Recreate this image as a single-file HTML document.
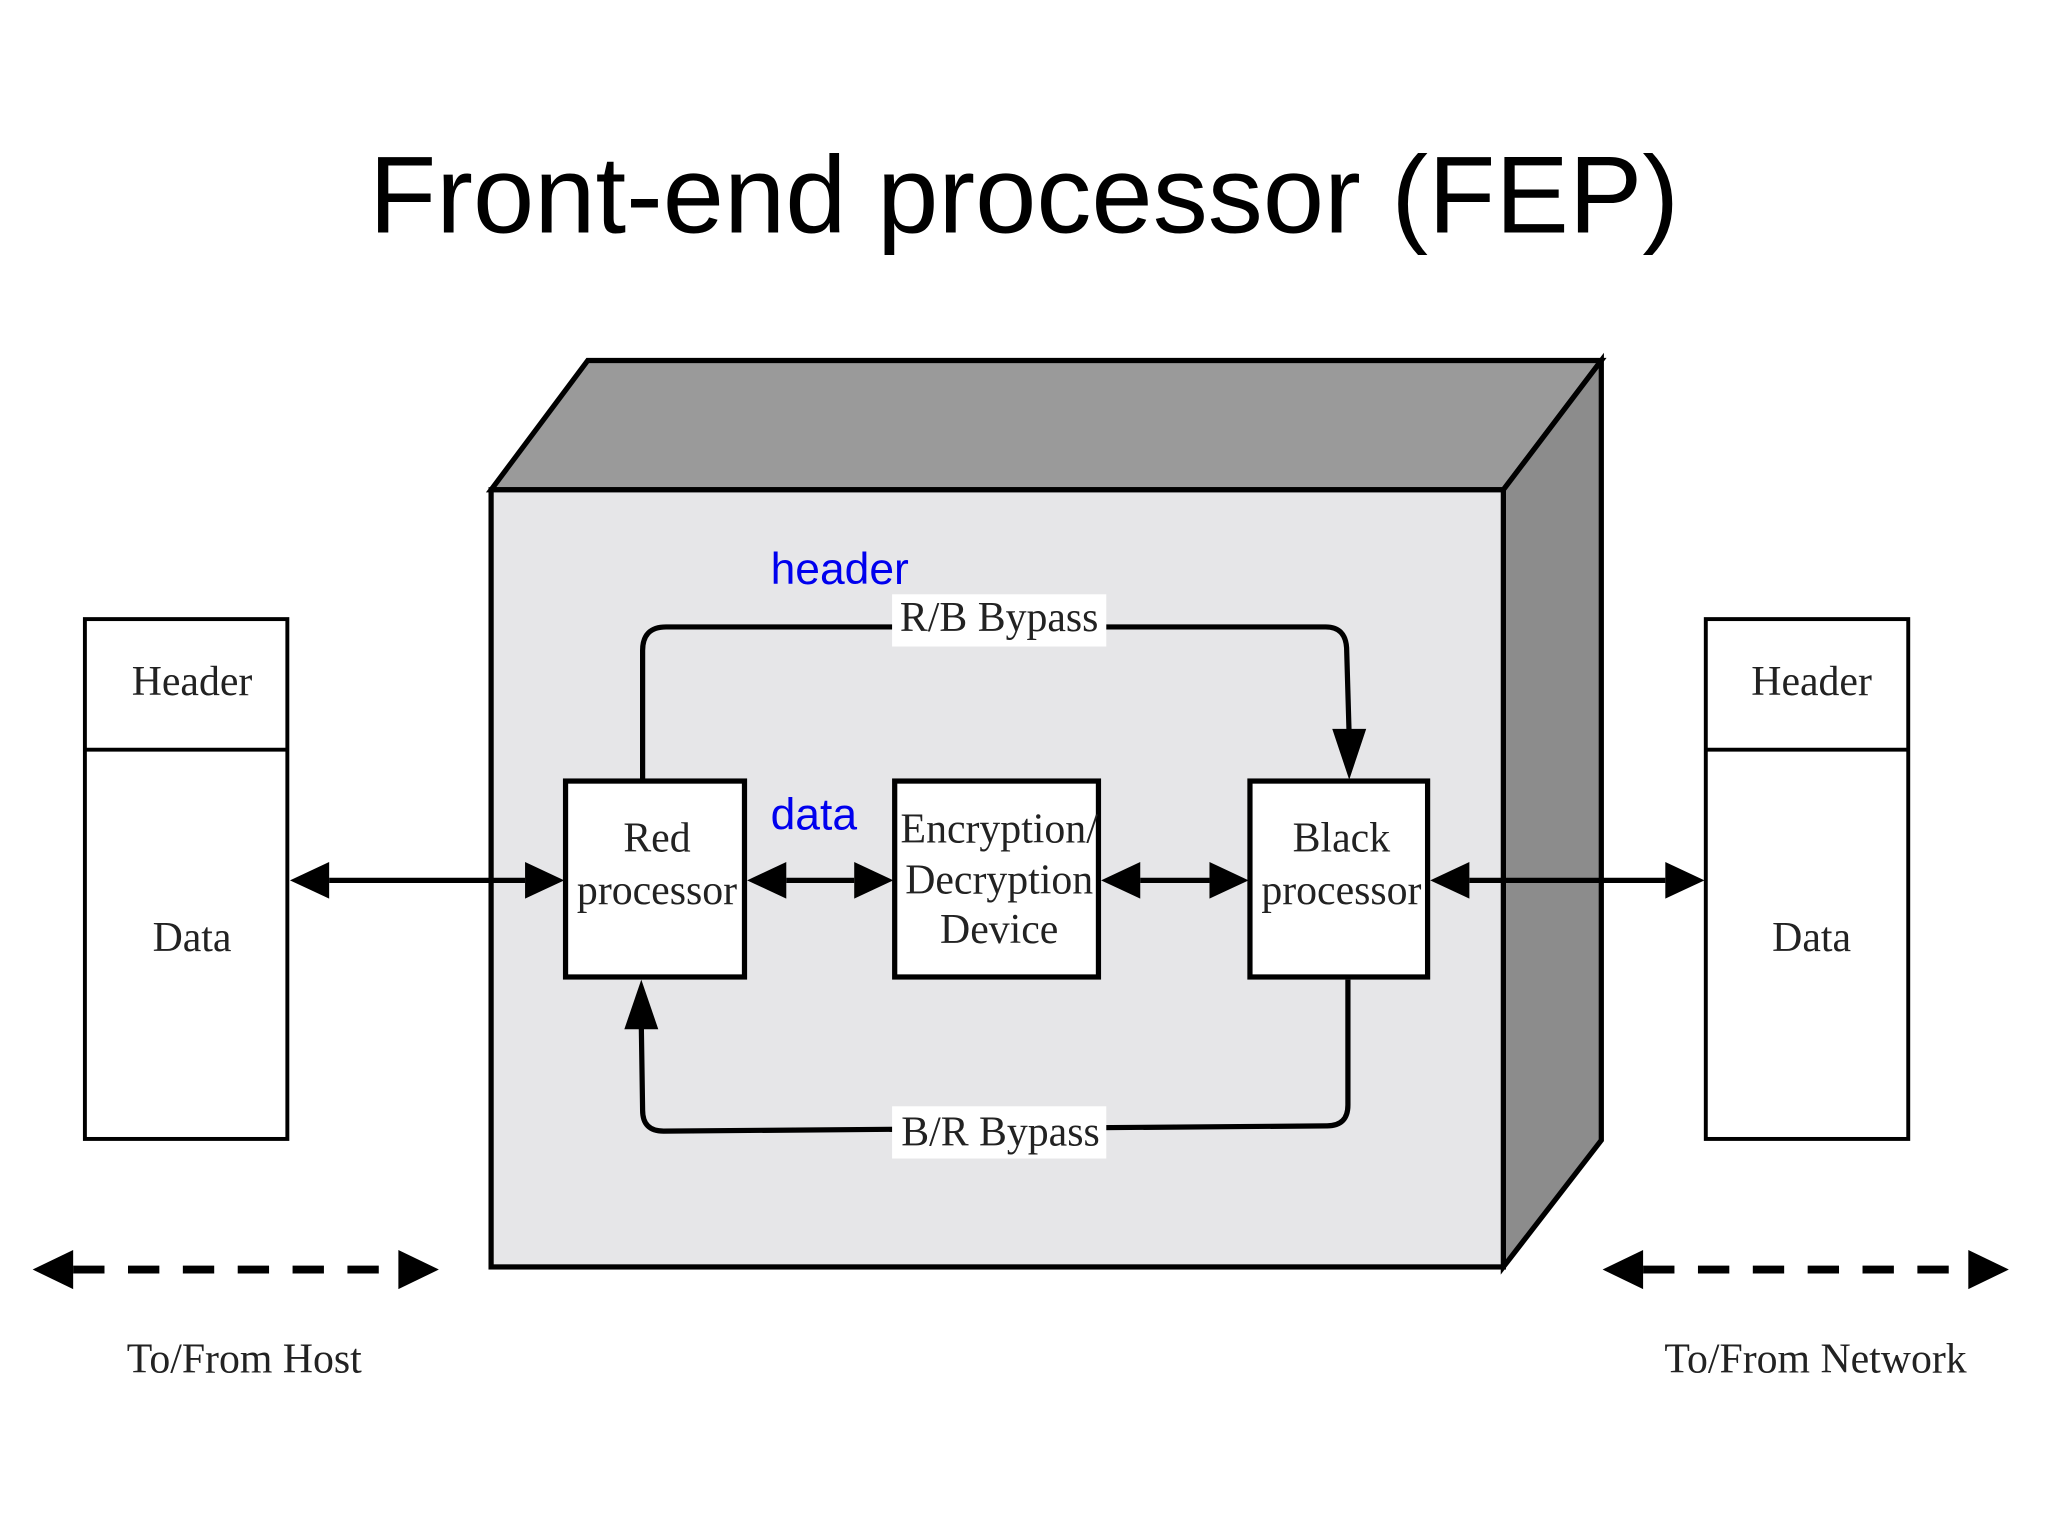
<!DOCTYPE html>
<html><head><meta charset="utf-8"><style>
html,body{margin:0;padding:0;background:#fff;}
svg{display:block;}
.s{font-family:"Liberation Serif",serif;fill:#222;}
.b{font-family:"Liberation Sans",sans-serif;fill:#0000ee;}
</style></head><body>
<svg width="2048" height="1536" viewBox="0 0 1568 1176" xmlns="http://www.w3.org/2000/svg">
<defs>
<marker id="a" viewBox="0 0 10 10" refX="10" refY="5" markerWidth="8" markerHeight="8" markerUnits="userSpaceOnUse" orient="auto-start-reverse"><path d="M0,0 L10,5 L0,10 z" fill="#000"/></marker>
</defs>
<text x="784" y="178" text-anchor="middle" font-family="Liberation Sans, sans-serif" font-size="84" fill="#000" textLength="1003" lengthAdjust="spacingAndGlyphs">Front-end processor (FEP)</text>
<!-- box -->
<polygon points="376,375 450,276 1226,276 1151,375" fill="#9a9a9a" stroke="#000" stroke-width="4"/>
<polygon points="1151,375 1226,276 1226,873 1151,970" fill="#8c8c8c" stroke="#000" stroke-width="4"/>
<rect x="376" y="375" width="775" height="595" fill="#e6e6e8" stroke="#000" stroke-width="4"/>
<!-- packets -->
<rect x="65" y="474" width="155" height="398" fill="#fff" stroke="#000" stroke-width="3"/>
<line x1="65" y1="574" x2="220" y2="574" stroke="#000" stroke-width="3"/>
<rect x="1306" y="474" width="155" height="398" fill="#fff" stroke="#000" stroke-width="3"/>
<line x1="1306" y1="574" x2="1461" y2="574" stroke="#000" stroke-width="3"/>
<g class="s" font-size="32" text-anchor="middle">
<text x="147" y="532">Header</text><text x="147" y="728">Data</text>
<text x="1387" y="532">Header</text><text x="1387" y="728">Data</text>
</g>
<!-- bypass paths -->
<path d="M492,598 L492,498 Q492,480 510,480 L1015,480 Q1030,480 1031,496 L1033,565" fill="none" stroke="#000" stroke-width="4"/>
<polygon points="1020,558 1046,558 1033,597" fill="#000"/>
<path d="M1032,750 L1032,846 Q1032,862 1016,862 L508,866 Q492,866 492,850 L491,785" fill="none" stroke="#000" stroke-width="4"/>
<polygon points="478,788 504,788 491,750" fill="#000"/>
<rect x="683" y="455" width="164" height="40" fill="#fff"/>
<rect x="683" y="847" width="164" height="40" fill="#fff"/>
<g class="s" font-size="32" text-anchor="middle">
<text x="765" y="483">R/B Bypass</text>
<text x="766" y="877">B/R Bypass</text>
</g>
<!-- processors -->
<rect x="433" y="598" width="137" height="150" fill="#fff" stroke="#000" stroke-width="4"/>
<rect x="685" y="598" width="156" height="150" fill="#fff" stroke="#000" stroke-width="4"/>
<rect x="957" y="598" width="136" height="150" fill="#fff" stroke="#000" stroke-width="4"/>
<g class="s" font-size="32" text-anchor="middle">
<text x="503" y="652">Red</text><text x="503" y="692">processor</text>
<text x="765" y="645">Encryption/</text><text x="765" y="684">Decryption</text><text x="765" y="722">Device</text>
<text x="1027" y="652">Black</text><text x="1027" y="692">processor</text>
</g>
<!-- arrows -->
<g stroke="#000" stroke-width="4" fill="#000">
<line x1="252" y1="674" x2="402" y2="674"/>
<polygon points="222,674 252,660 252,688" stroke="none"/><polygon points="432,674 402,660 402,688" stroke="none"/>
<line x1="602" y1="674" x2="654" y2="674"/>
<polygon points="572,674 602,660 602,688" stroke="none"/><polygon points="684,674 654,660 654,688" stroke="none"/>
<line x1="873" y1="674" x2="926" y2="674"/>
<polygon points="843,674 873,660 873,688" stroke="none"/><polygon points="956,674 926,660 926,688" stroke="none"/>
<line x1="1125" y1="674" x2="1275" y2="674"/>
<polygon points="1095,674 1125,660 1125,688" stroke="none"/><polygon points="1305,674 1275,660 1275,688" stroke="none"/>
<!-- dashed -->
<line x1="56" y1="972" x2="306" y2="972" stroke-dasharray="24,18" stroke-width="6"/>
<polygon points="25,972 56,957 56,987" stroke="none"/><polygon points="336,972 305,957 305,987" stroke="none"/>
<line x1="1258" y1="972" x2="1508" y2="972" stroke-dasharray="24,18" stroke-width="6"/>
<polygon points="1227,972 1258,957 1258,987" stroke="none"/><polygon points="1538,972 1507,957 1507,987" stroke="none"/>
</g>
<g class="s" font-size="32" text-anchor="middle">
<text x="187" y="1051">To/From Host</text>
<text x="1390" y="1051">To/From Network</text>
</g>
<text class="b" x="590" y="447" font-size="34">header</text>
<text class="b" x="590" y="635" font-size="34">data</text>
</svg>
</body></html>
